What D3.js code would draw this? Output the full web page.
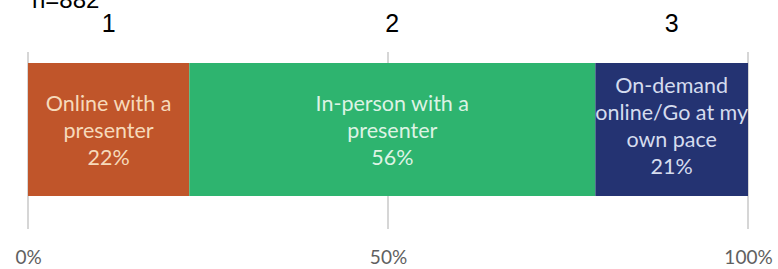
<!DOCTYPE html>
<html>
<head>
<meta charset="utf-8">
<script src="https://cdn.jsdelivr.net/npm/d3@7"></script>
<style>
html,body{margin:0;padding:0;background:#fff;}
svg{display:block;}
</style>
</head>
<body>
<svg id="chart" width="778" height="269"></svg>
<script>
// ---- data ----
const sampleNote = "n=882";
const categories = ["1", "2", "3"];
const segmentLabels = [
  ["Online with a", "presenter"],
  ["In-person with a", "presenter"],
  ["On-demand", "online/Go at my", "own pace"]
];
const values = [22.4, 56.4, 21.2];
const tickValues = [0, 50, 100];
const tickLabels = ["0%", "50%", "100%"];

// ---- styles ----
const barColors = ["#C0552A", "#2EB46F", "#243372"];
const textColors = ["#F6DABB", "#DDF3E4", "#D5DCEE"];
const labelFont = "Lato, 'Open Sans', sans-serif";

const svg = d3.select("#chart");
const W = 778, H = 269;
const m = {left: 28, right: 30};
const x = d3.scaleLinear().domain([0, 100]).range([m.left, W - m.right]);
const barTop = 63, barBottom = 196;
const y = d3.scaleBand().domain(["all"]).range([barTop, barBottom]).padding(0);

// cumulative
let acc = 0;
const segs = values.map((v, i) => {
  const s = {i, v, x0: acc, x1: acc + v, cat: categories[i], lines: segmentLabels[i]};
  acc += v;
  return s;
});

svg.append("defs").append("clipPath").attr("id", "plotclip")
  .append("rect").attr("x", x(0)).attr("y", 0).attr("width", x(100) - x(0)).attr("height", H);

// axis tick labels
const axis = d3.axisBottom(x).tickValues(tickValues)
  .tickFormat((d, i) => tickLabels[i]).tickSize(0).tickPadding(0);
const gAxis = svg.append("g").attr("transform", "translate(0,264)").call(axis);
gAxis.select(".domain").remove();
gAxis.selectAll("text")
  .attr("y", 0).attr("dy", 0)
  .style("font-family", labelFont).style("font-size", "19px").attr("fill", "#606060");

// gridlines
svg.append("g").selectAll("line").data(tickValues).join("line")
  .attr("x1", d => x(d)).attr("x2", d => x(d))
  .attr("y1", 52).attr("y2", 229)
  .attr("stroke", "#D6D6D6").attr("stroke-width", 2);

// bars
svg.append("g").selectAll("rect").data(segs).join("rect")
  .attr("x", d => x(d.x0)).attr("width", d => x(d.x1) - x(d.x0))
  .attr("y", y("all")).attr("height", y.bandwidth())
  .attr("fill", d => barColors[d.i]);

// in-bar labels
const lineH = 27;
const gl = svg.append("g").attr("clip-path", "url(#plotclip)");
segs.forEach(d => {
  const lines = d.lines.concat([Math.round(d.v) + "%"]);
  const cx = (x(d.x0) + x(d.x1)) / 2;
  const cy = y("all") + y.bandwidth() / 2;
  const firstBase = cy - (lines.length - 1) * lineH / 2 + (lines.length > 3 ? 4 : 8);
  const t = gl.append("text")
    .attr("text-anchor", "middle")
    .style("font-family", labelFont).style("font-size", "21.5px")
    .attr("fill", textColors[d.i]);
  lines.forEach((ln, k) => {
    t.append("tspan").attr("x", cx).attr("y", firstBase + k * lineH).text(ln);
  });
});

// category numbers
svg.append("g").selectAll("text").data(segs).join("text")
  .attr("x", d => (x(d.x0) + x(d.x1)) / 2).attr("y", 32)
  .attr("text-anchor", "middle")
  .style("font-family", "'Liberation Sans', Arial, sans-serif").style("font-size", "25px")
  .attr("fill", "#000").text(d => d.cat);

// sample note (cut off at top in original)
svg.append("text").attr("x", 32).attr("y", 8)
  .style("font-family", "'Liberation Sans', Arial, sans-serif").style("font-size", "24px")
  .attr("fill", "#000").text(sampleNote);
</script>
</body>
</html>
